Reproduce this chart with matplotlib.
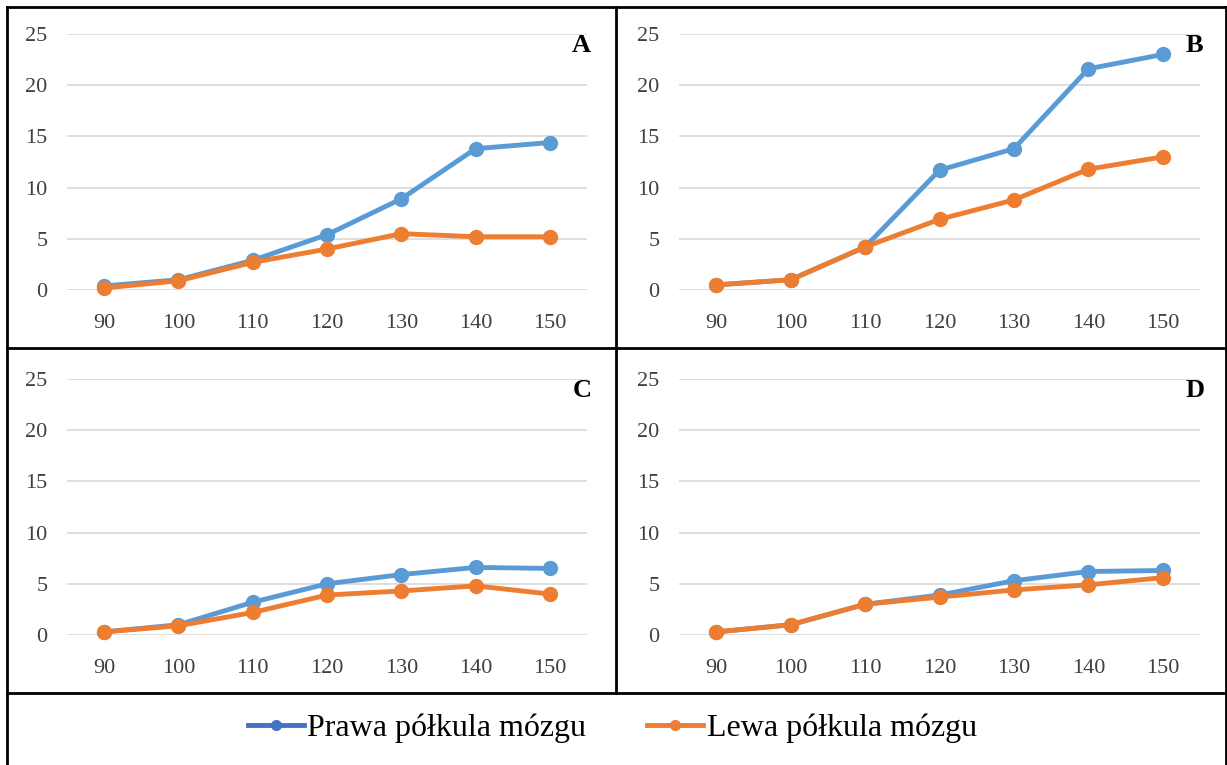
import matplotlib.pyplot as plt
from matplotlib.lines import Line2D

plt.rcParams['font.family'] = ['Liberation Serif', 'DejaVu Serif']

# ---------------------------------------------------------------------
# DATA
# ---------------------------------------------------------------------
categories = ['90', '100', '110', '120', '130', '140', '150']
panel_labels = ['A', 'B', 'C', 'D']

right_A = [0.4, 1.0, 2.9, 5.4, 8.9, 13.8, 14.4]
left_A = [0.2, 0.9, 2.7, 4.0, 5.5, 5.2, 5.2]

right_B = [0.5, 1.0, 4.2, 11.7, 13.8, 21.6, 23.0]
left_B = [0.5, 1.0, 4.2, 6.9, 8.8, 11.8, 13.0]

right_C = [0.3, 1.0, 3.2, 5.0, 5.9, 6.6, 6.5]
left_C = [0.3, 0.9, 2.2, 3.9, 4.3, 4.8, 4.0]

right_D = [0.3, 1.0, 3.0, 3.9, 5.3, 6.2, 6.3]
left_D = [0.3, 1.0, 3.0, 3.7, 4.4, 4.9, 5.6]

series_names = ['Prawa półkula mózgu', 'Lewa półkula mózgu']

# ---------------------------------------------------------------------
# LAYOUT (pixel based)
# ---------------------------------------------------------------------
W, H = 1227, 765
BLUE = '#5B9BD5'
ORANGE = '#ED7D31'
LEG_BLUE = '#4472C4'

fig = plt.figure(figsize=(W / 100, H / 100), dpi=100)


def px_rect(x0, y0, x1, y1):
    return [x0 / W, 1 - y1 / H, (x1 - x0) / W, (y1 - y0) / H]


def hline(x0, x1, y, lw=2):
    fig.add_artist(Line2D([x0 / W, x1 / W], [1 - y / H, 1 - y / H], color='black', lw=lw))


def vline(x, y0, y1, lw=2):
    fig.add_artist(Line2D([x / W, x / W], [1 - y0 / H, 1 - y1 / H], color='black', lw=lw))


# frame lines
hline(7, 1226, 7)
hline(7, 1226, 348)
hline(7, 1226, 693)
vline(7, 7, 765)
vline(1226, 7, 765)
vline(616, 7, 693)

panels = [
    (67, 587, 34, 290, right_A, left_A),
    (679, 1200, 34, 290, right_B, left_B),
    (67, 587, 379, 635, right_C, left_C),
    (679, 1200, 379, 635, right_D, left_D),
]

x = list(range(len(categories)))
for (x0, x1, y0, y1, r, l), lab in zip(panels, panel_labels):
    ax = fig.add_axes(px_rect(x0, y0, x1, y1))
    ax.plot(x, r, color=BLUE, lw=3.5, marker='o', ms=10, clip_on=False, zorder=3)
    ax.plot(x, l, color=ORANGE, lw=3.5, marker='o', ms=10, clip_on=False, zorder=4)
    ax.set_xlim(-0.5, 6.5)
    ax.set_ylim(0, 25)
    ax.set_yticks([0, 5, 10, 15, 20, 25])
    ax.set_xticks(x)
    ax.set_xticklabels(categories)
    ax.tick_params(length=0, labelsize=16, colors='#404040', pad=17)
    ax.tick_params(axis='y', pad=14)
    ax.grid(axis='y', color='#D9D9D9', lw=1.2)
    ax.set_axisbelow(True)
    for s in ax.spines.values():
        s.set_visible(False)
    ax.text(0.99, 0.955, lab, transform=ax.transAxes, ha='center', va='center',
            fontsize=19, fontweight='bold')

handles = [
    Line2D([], [], color=LEG_BLUE, lw=3.5, marker='o', ms=7),
    Line2D([], [], color=ORANGE, lw=3.5, marker='o', ms=7),
]
fig.legend(handles, series_names, loc='center', bbox_to_anchor=(0.499, 1 - 728 / H),
           ncol=2, frameon=False, fontsize=23, handlelength=1.75, handletextpad=0.12,
           columnspacing=1.9)

fig.savefig('out.png', dpi=100)
